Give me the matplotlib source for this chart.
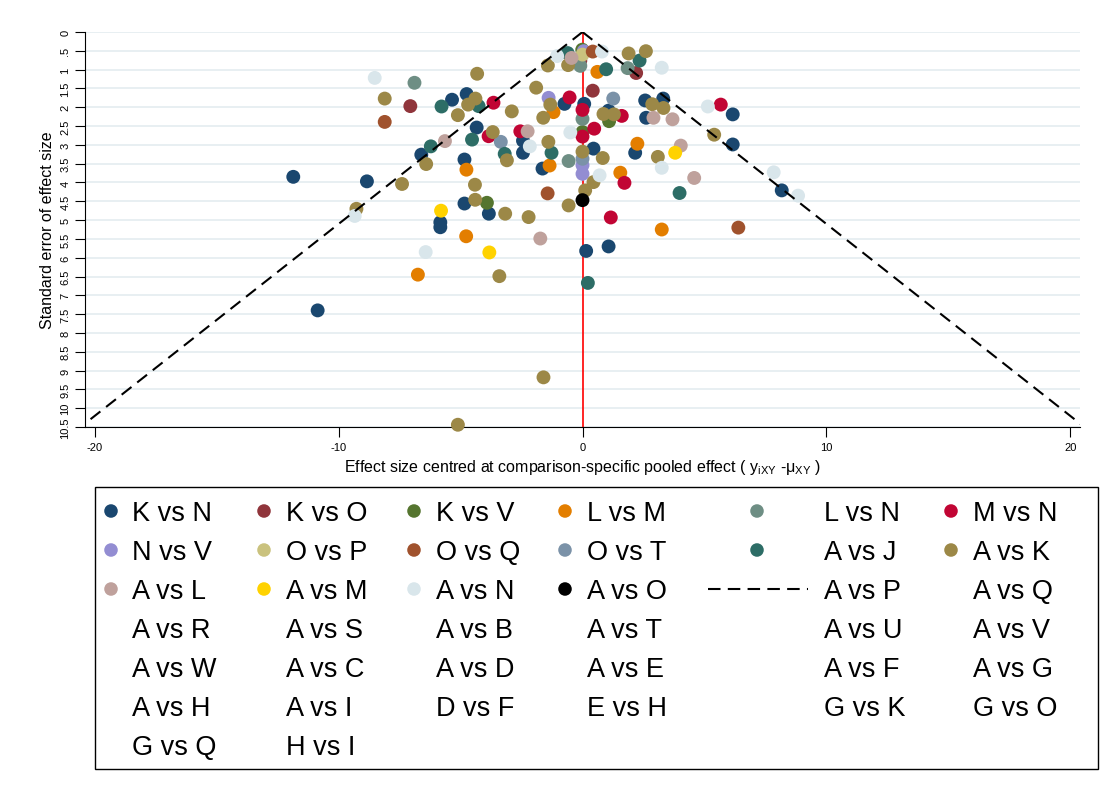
import matplotlib
matplotlib.use('Agg')
import matplotlib.pyplot as plt
import numpy as np
from matplotlib.patches import Rectangle

plt.rcParams['font.family'] = ['Liberation Sans', 'DejaVu Sans']
plt.rcParams['mathtext.fontset'] = 'custom'
plt.rcParams['mathtext.rm'] = 'Liberation Sans'
plt.rcParams['mathtext.it'] = 'Liberation Sans'

# 各比较组：效应量 (x) 与标准误 (y)
kn_x = [-6.61, -11.86, -8.84, -5.35, -4.75, -4.34, -2.44, -2.44, -4.84, -1.64, -4.84, -3.84, -5.83, -5.83,
        -0.74, 0.07, 0.45, 1.07, 2.57, 3.31, 2.61, 6.16, 6.16, 2.16, 8.17, 0.15, 1.07, -10.86]
kn_y = [3.26, 3.85, 3.97, 1.80, 1.65, 2.54, 2.89, 3.21, 3.39, 3.63, 4.56, 4.83, 5.06, 5.19,
        1.91, 1.91, 3.10, 2.09, 1.82, 1.77, 2.28, 2.19, 2.99, 3.21, 4.21, 5.82, 5.70, 7.40]
ko_x = [-7.06, -0.09, 0.42, 2.20]
ko_y = [1.97, 0.76, 1.56, 1.09]
kv_x = [-3.92, 0.00, 1.09, -0.01]
kv_y = [4.54, 2.66, 2.37, 0.47]
lm_x = [-4.76, -4.77, -1.19, -1.35, 0.61, 2.25, 1.55, 3.25, -6.75]
lm_y = [3.66, 5.43, 2.13, 3.55, 1.06, 2.97, 3.74, 5.25, 6.45]
ln_x = [-6.89, 0.00, -0.57, -0.09, 1.85]
ln_y = [1.35, 2.31, 3.43, 0.90, 0.96]
mn_x = [-3.65, -3.85, -2.55, -0.53, 0.00, 0.48, 0.00, 1.61, 1.72, 5.67, 1.16]
mn_y = [1.88, 2.77, 2.64, 1.74, 2.07, 2.57, 2.78, 2.23, 4.01, 1.93, 4.93]
nv_x = [-1.39, 0.05, 0.00, 0.00]
nv_y = [1.75, 0.51, 3.54, 3.77]
op_x = [0.00]
op_y = [0.60]
oq_x = [-8.11, -1.43, 0.42, 6.39]
oq_y = [2.39, 4.29, 0.52, 5.20]
ot_x = [-3.35, 1.26, 0.00]
ot_y = [2.92, 1.77, 3.37]
aj_x = [-5.78, -4.26, -6.22, -4.53, -3.19, -1.27, -0.61, 0.97, 2.34, 3.98, 0.22]
aj_y = [1.98, 1.97, 3.04, 2.86, 3.24, 3.21, 0.56, 0.99, 0.76, 4.28, 6.67]
ak_x = [-8.11, -4.32, -4.39, -4.69, -5.11, -2.90, -1.90, -1.61, -1.32, -3.68, -7.40, -6.41, -3.10,
        -1.40, -4.41, -4.40, -3.17, -2.21, -9.27, -1.42, -0.59, 0.00, 0.83, 0.86, 1.29, 0.11, -0.57,
        0.45, 1.89, 2.60, 2.86, 3.32, 5.40, 3.09, -3.41, -1.60, -5.11]
ak_y = [1.77, 1.11, 1.77, 1.93, 2.21, 2.11, 1.48, 2.28, 1.93, 2.66, 4.04, 3.51, 3.41,
        2.92, 4.06, 4.46, 4.83, 4.92, 4.70, 0.89, 0.88, 3.18, 3.35, 2.18, 2.19, 4.21, 4.61,
        3.99, 0.57, 0.51, 1.92, 2.02, 2.73, 3.32, 6.49, 9.18, 10.44]
al_x = [-5.64, -2.25, -1.73, -0.45, 2.91, 3.69, 4.03, 4.58]
al_y = [2.90, 2.64, 5.49, 0.69, 2.28, 2.32, 3.02, 3.88]
am_x = [-5.80, -3.82, 3.80]
am_y = [4.75, 5.86, 3.21]
an_x = [-8.52, -9.34, -6.43, -2.16, -1.04, -0.50, 0.80, 3.25, 0.70, 3.25, 5.14, 7.84, 8.84]
an_y = [1.22, 4.89, 5.85, 3.04, 0.64, 2.67, 0.52, 0.95, 3.81, 3.61, 1.98, 3.73, 4.35]
ao_x = [0.00]
ao_y = [4.47]

series_x = [kn_x, ko_x, kv_x, lm_x, ln_x, mn_x, nv_x, op_x, oq_x, ot_x, aj_x, ak_x, al_x, am_x, an_x, ao_x]
series_y = [kn_y, ko_y, kv_y, lm_y, ln_y, mn_y, nv_y, op_y, oq_y, ot_y, aj_y, ak_y, al_y, am_y, an_y, ao_y]
colors = ['#1a476f', '#90353b', '#55752f', '#e37e00', '#6e8e84', '#c10534', '#938dd2', '#cac27e',
          '#a0522d', '#7b92a8', '#2d6d66', '#9c8847', '#bfa19c', '#ffd200', '#d9e6eb', '#000000']

labels = ['K vs N', 'K vs O', 'K vs V', 'L vs M', 'L vs N', 'M vs N',
          'N vs V', 'O vs P', 'O vs Q', 'O vs T', 'A vs J', 'A vs K',
          'A vs L', 'A vs M', 'A vs N', 'A vs O', 'A vs P', 'A vs Q',
          'A vs R', 'A vs S', 'A vs B', 'A vs T', 'A vs U', 'A vs V',
          'A vs W', 'A vs C', 'A vs D', 'A vs E', 'A vs F', 'A vs G',
          'A vs H', 'A vs I', 'D vs F', 'E vs H', 'G vs K', 'G vs O',
          'G vs Q', 'H vs I']

se_max = 10.5
y_ticks = np.arange(0, 10.51, 0.5)
dash = (0, (6, 3.5))

fig = plt.figure(figsize=(11.03, 8.03), dpi=100)
ax = fig.add_axes([85 / 1103, 1 - 428 / 803, 995 / 1103, 395 / 803])

for xs, ys, c in zip(series_x, series_y, colors):
    ax.scatter(xs, ys, s=100, color=c, edgecolors='none', zorder=3, clip_on=False)

# 漏斗线与零线
se_line = np.array([0, se_max])
ax.plot(-1.96 * se_line, se_line, color='black', lw=1.5, ls=dash, zorder=4)
ax.plot(1.96 * se_line, se_line, color='black', lw=1.5, ls=dash, zorder=4)
ax.axvline(0, color='red', lw=1.2, zorder=2)

ax.set_xlim(-20.4, 20.4)
ax.set_ylim(se_max, 0)
ax.set_yticks(y_ticks)
ax.set_yticklabels([('%g' % t).lstrip('0') if t != 0 else '0' for t in y_ticks],
                   rotation=90, va='center', fontsize=8)
ax.set_xticks([-20, -10, 0, 10, 20])
ax.set_xticklabels(['-20', '-10', '0', '10', '20'], fontsize=8)
ax.tick_params(axis='both', length=7, width=0.8)
ax.yaxis.grid(True, color='#e6eef1', lw=1.3, zorder=0)
ax.set_axisbelow(True)
for side in ['top', 'right']:
    ax.spines[side].set_visible(False)
ax.set_xlabel(r'Effect size centred at comparison-specific pooled effect ( $\mathrm{y_{iXY}}$ -$\mathrm{\mu_{XY}}$ )',
              fontsize=11.5, labelpad=4)
ax.set_ylabel('Standard error of effect size', fontsize=11.5, labelpad=4)

# 图例（手工排布，6 列）
lax = fig.add_axes([0, 0, 1, 1])
lax.set_xlim(0, 1103)
lax.set_ylim(803, 0)
lax.axis('off')
lax.add_patch(Rectangle((95, 488), 1003, 282, fill=False, ec='black', lw=1.0))
col_marker = [111, 264, 414, 565, 757, 951]
col_text = [132, 286, 436, 587, 824, 973]
row_y = [512, 551, 590, 629, 668, 707, 746]
for i, lab in enumerate(labels):
    r, c = divmod(i, 6)
    y = row_y[r]
    if i < len(colors):
        lax.scatter([col_marker[c]], [y], s=95, color=colors[i], edgecolors='none')
    elif lab == 'A vs P':
        lax.plot([708, 808], [y, y], color='black', lw=1.5, ls=dash)
    lax.text(col_text[c], y + 9.5, lab, fontsize=19.5, va='baseline', ha='left')

fig.savefig('out.png', dpi=100)
plt.close()
